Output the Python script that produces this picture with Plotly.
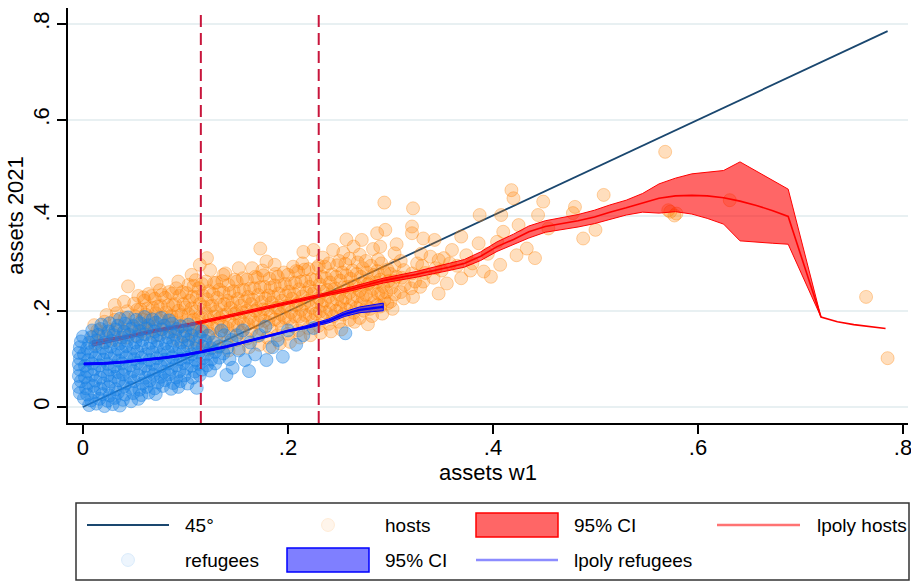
import plotly.graph_objects as go

# ---------------- data ----------------
tick_vals = [0, 0.2, 0.4, 0.6, 0.8]
tick_text = ["0", ".2", ".4", ".6", ".8"]

diag_x = [0.0, 0.785]
diag_y = [0.0, 0.785]

cutoffs = [0.115, 0.230]

hosts_grid_x = [0.009, 0.041, 0.072, 0.104, 0.135, 0.167, 0.199, 0.230, 0.262, 0.293,
                0.325, 0.357, 0.372, 0.388, 0.404, 0.420, 0.435, 0.451, 0.467, 0.483,
                0.499, 0.514, 0.530, 0.546, 0.562, 0.578, 0.594, 0.609, 0.625, 0.641,
                0.657, 0.673, 0.688, 0.720, 0.736, 0.752, 0.767, 0.783]
hosts_fit = [0.132, 0.146, 0.160, 0.172, 0.186, 0.201, 0.217, 0.232, 0.247, 0.264,
             0.277, 0.292, 0.300, 0.315, 0.335, 0.350, 0.366, 0.377, 0.383, 0.389,
             0.397, 0.407, 0.416, 0.426, 0.436, 0.441, 0.442, 0.441, 0.437, 0.430,
             0.421, 0.410, 0.398, 0.188, 0.178, 0.172, 0.168, 0.164]
hosts_lo = [0.127, 0.143, 0.157, 0.169, 0.183, 0.198, 0.214, 0.229, 0.243, 0.259,
            0.271, 0.285, 0.292, 0.306, 0.325, 0.339, 0.353, 0.365, 0.371, 0.376,
            0.383, 0.392, 0.401, 0.407, 0.405, 0.408, 0.403, 0.394, 0.382, 0.347,
            0.345, 0.342, 0.340, 0.188, None, None, None, None]
hosts_hi = [0.138, 0.149, 0.163, 0.175, 0.189, 0.204, 0.220, 0.235, 0.251, 0.269,
            0.283, 0.299, 0.308, 0.324, 0.345, 0.361, 0.378, 0.389, 0.395, 0.402,
            0.411, 0.422, 0.432, 0.446, 0.466, 0.478, 0.487, 0.490, 0.494, 0.512,
            0.493, 0.474, 0.455, 0.188, None, None, None, None]

ref_grid_x = [0.001, 0.020, 0.040, 0.060, 0.080, 0.100, 0.120, 0.140, 0.160, 0.180,
              0.200, 0.220, 0.240, 0.255, 0.270, 0.285, 0.293]
ref_fit = [0.090, 0.091, 0.094, 0.098, 0.103, 0.109, 0.117, 0.126, 0.137, 0.148,
           0.159, 0.168, 0.180, 0.194, 0.203, 0.207, 0.209]
ref_lo = [0.088, 0.089, 0.092, 0.096, 0.101, 0.107, 0.115, 0.124, 0.135, 0.146,
          0.157, 0.165, 0.176, 0.189, 0.197, 0.200, 0.201]
ref_hi = [0.092, 0.093, 0.096, 0.100, 0.105, 0.111, 0.119, 0.128, 0.139, 0.150,
          0.161, 0.171, 0.184, 0.199, 0.209, 0.214, 0.217]

refugee_points = [
    (0.006, 0.004), (0.013, 0.007), (0.021, 0.002), (0.029, 0.006), (0.036, 0.003),
    (0.001, 0.018), (0.008, 0.014), (0.016, 0.017), (0.024, 0.013), (0.031, 0.019), (0.039, 0.015),
    (0.047, 0.012), (0.054, 0.017),
    (-0.003, 0.029), (0.004, 0.026), (0.011, 0.031), (0.019, 0.027), (0.026, 0.024), (0.034, 0.030),
    (0.041, 0.026), (0.049, 0.029), (0.057, 0.025), (0.064, 0.030), (0.071, 0.027),
    (-0.004, 0.042), (0.003, 0.039), (0.010, 0.044), (0.017, 0.038), (0.025, 0.042), (0.032, 0.037),
    (0.040, 0.043), (0.047, 0.040), (0.055, 0.036), (0.062, 0.042), (0.070, 0.039), (0.078, 0.044),
    (0.086, 0.038), (0.093, 0.042), (0.111, 0.040),
    (-0.002, 0.054), (0.005, 0.050), (0.012, 0.055), (0.020, 0.049), (0.027, 0.053), (0.035, 0.056),
    (0.042, 0.050), (0.050, 0.054), (0.058, 0.049), (0.065, 0.055), (0.073, 0.051), (0.080, 0.056),
    (0.088, 0.050), (0.095, 0.054), (0.102, 0.049),
    (-0.004, 0.065), (0.002, 0.062), (0.009, 0.067), (0.017, 0.061), (0.024, 0.066), (0.031, 0.063),
    (0.039, 0.068), (0.046, 0.062), (0.054, 0.066), (0.061, 0.061), (0.069, 0.067), (0.076, 0.063),
    (0.084, 0.068), (0.091, 0.062), (0.099, 0.066), (0.107, 0.061), (0.114, 0.067), (0.140, 0.067),
    (-0.003, 0.078), (0.004, 0.074), (0.011, 0.079), (0.019, 0.075), (0.026, 0.078), (0.034, 0.073),
    (0.041, 0.079), (0.049, 0.075), (0.056, 0.080), (0.064, 0.074), (0.071, 0.078), (0.079, 0.073),
    (0.086, 0.079), (0.094, 0.075), (0.101, 0.080), (0.109, 0.074), (0.116, 0.078), (0.124, 0.076),
    (-0.004, 0.089), (0.002, 0.086), (0.009, 0.091), (0.016, 0.087), (0.024, 0.090), (0.031, 0.085),
    (0.038, 0.091), (0.046, 0.087), (0.053, 0.092), (0.061, 0.086), (0.068, 0.090), (0.076, 0.085),
    (0.083, 0.091), (0.091, 0.087), (0.098, 0.092), (0.106, 0.086), (0.113, 0.090), (0.121, 0.087),
    (0.129, 0.091),
    (-0.003, 0.101), (0.005, 0.098), (0.012, 0.103), (0.020, 0.099), (0.027, 0.102), (0.035, 0.097),
    (0.042, 0.104), (0.050, 0.100), (0.057, 0.103), (0.065, 0.098), (0.072, 0.102), (0.080, 0.099),
    (0.087, 0.104), (0.095, 0.100), (0.102, 0.103), (0.110, 0.098), (0.117, 0.102), (0.125, 0.099),
    (0.133, 0.103), (0.179, 0.098),
    (-0.004, 0.113), (0.001, 0.110), (0.008, 0.115), (0.016, 0.111), (0.023, 0.114), (0.031, 0.109),
    (0.038, 0.115), (0.046, 0.111), (0.053, 0.116), (0.061, 0.110), (0.068, 0.114), (0.076, 0.109),
    (0.083, 0.115), (0.091, 0.111), (0.098, 0.116), (0.106, 0.110), (0.113, 0.114), (0.121, 0.111),
    (0.129, 0.115), (0.137, 0.112),
    (-0.003, 0.125), (0.004, 0.122), (0.012, 0.127), (0.019, 0.123), (0.027, 0.126), (0.034, 0.121),
    (0.042, 0.127), (0.049, 0.123), (0.057, 0.128), (0.064, 0.122), (0.072, 0.126), (0.079, 0.121),
    (0.087, 0.127), (0.094, 0.123), (0.102, 0.128), (0.109, 0.122), (0.117, 0.126), (0.125, 0.123),
    (0.133, 0.127), (0.141, 0.124),
    (-0.002, 0.137), (0.006, 0.134), (0.013, 0.139), (0.021, 0.135), (0.028, 0.138), (0.036, 0.133),
    (0.043, 0.139), (0.051, 0.135), (0.058, 0.140), (0.066, 0.134), (0.073, 0.138), (0.081, 0.133),
    (0.088, 0.139), (0.096, 0.135), (0.103, 0.140), (0.111, 0.134), (0.119, 0.138), (0.127, 0.135),
    (0.000, 0.147), (0.008, 0.146), (0.015, 0.151), (0.023, 0.147), (0.030, 0.150), (0.038, 0.145),
    (0.045, 0.151), (0.053, 0.147), (0.060, 0.152), (0.068, 0.146), (0.075, 0.150), (0.083, 0.145),
    (0.090, 0.151), (0.098, 0.147), (0.106, 0.150), (0.114, 0.146), (0.122, 0.149),
    (0.009, 0.160), (0.017, 0.163), (0.025, 0.158), (0.032, 0.162), (0.040, 0.157), (0.047, 0.163),
    (0.055, 0.159), (0.062, 0.164), (0.070, 0.158), (0.077, 0.162), (0.085, 0.157), (0.092, 0.163),
    (0.100, 0.159), (0.108, 0.162), (0.116, 0.158),
    (0.018, 0.172), (0.026, 0.175), (0.034, 0.170), (0.041, 0.174), (0.049, 0.169), (0.056, 0.175),
    (0.064, 0.171), (0.071, 0.176), (0.079, 0.170), (0.087, 0.174), (0.095, 0.169), (0.103, 0.172),
    (0.036, 0.184), (0.044, 0.187), (0.052, 0.182), (0.060, 0.188), (0.068, 0.183), (0.076, 0.186),
    (0.084, 0.181),
    (0.146, 0.082), (0.152, 0.118), (0.158, 0.098), (0.163, 0.135), (0.150, 0.150), (0.168, 0.110),
    (0.172, 0.150), (0.145, 0.140), (0.156, 0.160), (0.185, 0.125), (0.190, 0.140), (0.195, 0.105),
    (0.200, 0.160), (0.178, 0.168), (0.208, 0.130), (0.215, 0.150), (0.162, 0.075), (0.138, 0.150),
    (0.143, 0.100), (0.225, 0.165), (0.256, 0.154), (0.135, 0.160),
]

host_points = [
    (0.012, 0.132), (0.010, 0.147), (0.014, 0.160), (0.011, 0.171),
    (0.022, 0.135), (0.020, 0.150), (0.024, 0.163), (0.021, 0.178), (0.023, 0.192),
    (0.032, 0.140), (0.030, 0.155), (0.034, 0.168), (0.031, 0.182), (0.033, 0.196), (0.031, 0.213),
    (0.042, 0.145), (0.040, 0.158), (0.044, 0.172), (0.041, 0.186), (0.043, 0.200), (0.040, 0.220),
    (0.044, 0.252),
    (0.052, 0.150), (0.050, 0.163), (0.054, 0.176), (0.051, 0.189), (0.053, 0.203), (0.050, 0.216),
    (0.054, 0.232),
    (0.062, 0.152), (0.060, 0.166), (0.064, 0.180), (0.061, 0.193), (0.063, 0.206), (0.060, 0.222),
    (0.064, 0.236),
    (0.072, 0.150), (0.070, 0.168), (0.074, 0.182), (0.071, 0.196), (0.073, 0.210), (0.070, 0.226),
    (0.072, 0.258), (0.075, 0.244),
    (0.082, 0.155), (0.080, 0.170), (0.084, 0.184), (0.081, 0.198), (0.083, 0.212), (0.080, 0.228),
    (0.084, 0.240),
    (0.092, 0.140), (0.090, 0.158), (0.094, 0.173), (0.091, 0.187), (0.093, 0.201), (0.090, 0.215),
    (0.094, 0.232), (0.093, 0.262), (0.091, 0.248),
    (0.102, 0.135), (0.100, 0.150), (0.104, 0.165), (0.101, 0.180), (0.103, 0.194), (0.100, 0.208),
    (0.104, 0.222), (0.101, 0.238), (0.106, 0.276), (0.103, 0.255),
    (0.112, 0.125), (0.110, 0.142), (0.114, 0.158), (0.111, 0.172), (0.113, 0.186), (0.110, 0.200),
    (0.114, 0.215), (0.111, 0.230), (0.113, 0.248), (0.114, 0.297), (0.110, 0.265),
    (0.122, 0.120), (0.120, 0.138), (0.124, 0.153), (0.121, 0.168), (0.123, 0.182), (0.120, 0.196),
    (0.124, 0.210), (0.121, 0.225), (0.123, 0.242), (0.121, 0.311), (0.124, 0.286), (0.120, 0.262),
    (0.132, 0.125), (0.130, 0.142), (0.134, 0.157), (0.131, 0.171), (0.133, 0.185), (0.130, 0.199),
    (0.134, 0.213), (0.131, 0.228), (0.133, 0.245), (0.137, 0.276), (0.130, 0.260),
    (0.142, 0.118), (0.140, 0.135), (0.144, 0.150), (0.141, 0.165), (0.143, 0.179), (0.140, 0.193),
    (0.144, 0.207), (0.141, 0.222), (0.143, 0.238), (0.139, 0.279), (0.142, 0.255),
    (0.152, 0.122), (0.150, 0.140), (0.154, 0.156), (0.151, 0.170), (0.153, 0.184), (0.150, 0.198),
    (0.154, 0.212), (0.151, 0.226), (0.153, 0.242), (0.152, 0.290), (0.150, 0.262),
    (0.162, 0.125), (0.160, 0.143), (0.164, 0.159), (0.161, 0.173), (0.163, 0.187), (0.160, 0.201),
    (0.164, 0.215), (0.161, 0.230), (0.163, 0.247), (0.165, 0.290), (0.160, 0.266),
    (0.172, 0.130), (0.170, 0.148), (0.174, 0.163), (0.171, 0.177), (0.173, 0.191), (0.170, 0.205),
    (0.174, 0.219), (0.171, 0.234), (0.173, 0.250), (0.173, 0.331), (0.170, 0.270), (0.175, 0.285),
    (0.182, 0.125), (0.180, 0.145), (0.184, 0.161), (0.181, 0.176), (0.183, 0.190), (0.180, 0.204),
    (0.184, 0.218), (0.181, 0.233), (0.183, 0.249), (0.179, 0.304), (0.182, 0.268),
    (0.192, 0.133), (0.190, 0.150), (0.194, 0.166), (0.191, 0.180), (0.193, 0.194), (0.190, 0.208),
    (0.194, 0.222), (0.191, 0.237), (0.193, 0.253), (0.187, 0.297), (0.190, 0.272),
    (0.202, 0.136), (0.200, 0.153), (0.204, 0.169), (0.201, 0.184), (0.203, 0.198), (0.200, 0.212),
    (0.204, 0.226), (0.201, 0.241), (0.203, 0.258), (0.205, 0.293), (0.200, 0.276),
    (0.212, 0.145), (0.210, 0.160), (0.214, 0.175), (0.211, 0.189), (0.213, 0.203), (0.210, 0.217),
    (0.214, 0.231), (0.211, 0.246), (0.213, 0.262), (0.215, 0.324), (0.210, 0.282), (0.214, 0.300),
    (0.222, 0.150), (0.220, 0.165), (0.224, 0.180), (0.221, 0.194), (0.223, 0.208), (0.220, 0.222),
    (0.224, 0.236), (0.221, 0.251), (0.223, 0.267), (0.225, 0.328), (0.220, 0.288),
    (0.232, 0.155), (0.230, 0.170), (0.234, 0.185), (0.231, 0.199), (0.233, 0.213), (0.230, 0.227),
    (0.234, 0.241), (0.231, 0.256), (0.233, 0.272), (0.230, 0.295), (0.234, 0.312),
    (0.242, 0.158), (0.240, 0.174), (0.244, 0.189), (0.241, 0.203), (0.243, 0.217), (0.240, 0.231),
    (0.244, 0.245), (0.241, 0.260), (0.243, 0.277), (0.244, 0.328), (0.240, 0.300),
    (0.252, 0.162), (0.250, 0.178), (0.254, 0.193), (0.251, 0.207), (0.253, 0.221), (0.250, 0.235),
    (0.254, 0.249), (0.251, 0.264), (0.253, 0.281), (0.257, 0.350), (0.250, 0.305), (0.254, 0.322),
    (0.265, 0.178), (0.260, 0.182), (0.264, 0.197), (0.261, 0.211), (0.263, 0.225), (0.260, 0.239),
    (0.264, 0.253), (0.261, 0.268), (0.263, 0.285), (0.260, 0.310), (0.264, 0.335),
    (0.278, 0.173), (0.270, 0.186), (0.274, 0.201), (0.271, 0.215), (0.273, 0.229), (0.270, 0.243),
    (0.274, 0.257), (0.271, 0.272), (0.273, 0.290), (0.272, 0.349), (0.270, 0.318),
    (0.282, 0.190), (0.280, 0.205), (0.284, 0.219), (0.281, 0.233), (0.283, 0.247), (0.280, 0.261),
    (0.284, 0.276), (0.281, 0.295), (0.287, 0.363), (0.283, 0.330),
    (0.292, 0.195), (0.290, 0.210), (0.294, 0.224), (0.291, 0.238), (0.293, 0.252), (0.290, 0.266),
    (0.294, 0.281), (0.291, 0.300), (0.295, 0.370), (0.294, 0.427), (0.290, 0.335),
    (0.302, 0.205), (0.300, 0.220), (0.304, 0.235), (0.301, 0.249), (0.303, 0.263), (0.300, 0.278),
    (0.304, 0.295), (0.306, 0.272), (0.304, 0.321),
    (0.313, 0.227), (0.310, 0.240), (0.314, 0.255), (0.311, 0.270), (0.313, 0.286), (0.310, 0.305),
    (0.306, 0.340),
    (0.322, 0.230), (0.320, 0.248), (0.324, 0.262), (0.321, 0.279), (0.326, 0.300), (0.322, 0.415),
    (0.321, 0.377), (0.321, 0.363),
    (0.329, 0.251), (0.332, 0.262), (0.334, 0.280), (0.331, 0.295), (0.332, 0.352), (0.330, 0.320),
    (0.343, 0.349), (0.339, 0.314), (0.342, 0.270), (0.344, 0.290), (0.347, 0.237), (0.347, 0.307),
    (0.352, 0.311), (0.355, 0.258), (0.350, 0.285), (0.358, 0.300), (0.360, 0.328),
    (0.369, 0.269), (0.369, 0.356), (0.374, 0.317), (0.365, 0.295), (0.380, 0.300), (0.386, 0.342),
    (0.387, 0.401), (0.391, 0.283), (0.404, 0.345), (0.407, 0.297), (0.408, 0.401), (0.410, 0.366),
    (0.418, 0.453), (0.420, 0.436), (0.423, 0.317), (0.425, 0.380), (0.433, 0.331), (0.441, 0.311),
    (0.444, 0.401), (0.449, 0.429), (0.454, 0.373), (0.395, 0.320), (0.378, 0.285), (0.398, 0.272),
    (0.478, 0.405), (0.480, 0.418), (0.488, 0.352), (0.500, 0.370), (0.508, 0.443), (0.568, 0.533),
    (0.571, 0.411), (0.573, 0.408), (0.577, 0.400), (0.579, 0.404), (0.631, 0.432), (0.764, 0.230),
    (0.785, 0.102),
    # denser core of the hosts cloud
    (0.057, 0.158), (0.058, 0.183), (0.056, 0.204), (0.059, 0.229),
    (0.067, 0.161), (0.066, 0.185), (0.068, 0.207), (0.067, 0.232),
    (0.077, 0.163), (0.078, 0.187), (0.076, 0.211), (0.077, 0.234),
    (0.087, 0.166), (0.086, 0.190), (0.088, 0.213), (0.087, 0.237),
    (0.097, 0.168), (0.096, 0.192), (0.098, 0.215), (0.097, 0.240),
    (0.107, 0.159), (0.108, 0.183), (0.106, 0.206), (0.107, 0.230), (0.108, 0.253),
    (0.117, 0.162), (0.116, 0.186), (0.118, 0.209), (0.117, 0.233), (0.116, 0.257),
    (0.127, 0.165), (0.128, 0.189), (0.126, 0.212), (0.127, 0.236), (0.128, 0.259),
    (0.137, 0.168), (0.136, 0.192), (0.138, 0.215), (0.137, 0.239), (0.136, 0.263),
    (0.147, 0.171), (0.148, 0.195), (0.146, 0.218), (0.147, 0.242), (0.148, 0.266),
    (0.157, 0.174), (0.156, 0.198), (0.158, 0.221), (0.157, 0.245), (0.156, 0.269),
    (0.167, 0.177), (0.168, 0.201), (0.166, 0.224), (0.167, 0.248), (0.168, 0.272),
    (0.177, 0.180), (0.176, 0.204), (0.178, 0.227), (0.177, 0.251), (0.176, 0.275),
    (0.187, 0.183), (0.188, 0.207), (0.186, 0.230), (0.187, 0.254), (0.188, 0.278),
    (0.197, 0.186), (0.196, 0.210), (0.198, 0.233), (0.197, 0.257), (0.196, 0.281),
    (0.207, 0.189), (0.208, 0.213), (0.206, 0.236), (0.207, 0.260), (0.208, 0.284),
    (0.217, 0.192), (0.216, 0.216), (0.218, 0.239), (0.217, 0.263), (0.216, 0.287),
    (0.227, 0.195), (0.228, 0.219), (0.226, 0.242), (0.227, 0.266), (0.228, 0.290),
    (0.237, 0.198), (0.236, 0.222), (0.238, 0.245), (0.237, 0.269), (0.236, 0.293),
    (0.247, 0.201), (0.248, 0.225), (0.246, 0.248), (0.247, 0.272), (0.248, 0.296),
    (0.257, 0.204), (0.256, 0.228), (0.258, 0.251), (0.257, 0.275), (0.256, 0.299),
    (0.267, 0.207), (0.268, 0.231), (0.266, 0.254), (0.267, 0.278), (0.268, 0.302),
    (0.277, 0.210), (0.276, 0.234), (0.278, 0.257), (0.277, 0.281), (0.276, 0.305),
    (0.287, 0.213), (0.288, 0.237), (0.286, 0.260), (0.287, 0.284), (0.288, 0.308),
    (0.297, 0.216), (0.296, 0.240), (0.298, 0.263), (0.297, 0.287),
]

legend_labels_row1 = ["45°", "hosts", "95% CI", "lpoly hosts"]
legend_labels_row2 = ["refugees", "95% CI", "lpoly refugees"]

# ---------------- styles ----------------
NAVY = "#1a476f"
ORANGE_FILL = "rgba(255,128,0,0.26)"
ORANGE_LINE = "rgba(255,128,0,0.34)"
BLUE_FILL = "rgba(24,130,230,0.38)"
BLUE_LINE = "rgba(24,130,230,0.44)"
RED = "#ff0000"
RED_BAND = "rgba(255,0,0,0.6)"
BLUE = "#0000ff"
BLUE_BAND = "rgba(0,0,255,0.5)"
CRIMSON = "#c8163c"
GRID = "#e8f0f2"
FONT = "Liberation Sans, Arial, Helvetica, sans-serif"


def band_polygon(xs, lo, hi):
    px, py = [], []
    keep = [(x, l, h) for x, l, h in zip(xs, lo, hi) if l is not None and h is not None]
    for x, l, h in keep:
        px.append(x)
        py.append(h)
    for x, l, h in reversed(keep):
        px.append(x)
        py.append(l)
    px.append(keep[0][0])
    py.append(keep[0][2])
    return px, py


fig = go.Figure()

# 45 degree line
fig.add_trace(go.Scatter(x=diag_x, y=diag_y, mode="lines",
                         line=dict(color=NAVY, width=1.8), hoverinfo="skip"))

# hosts scatter
fig.add_trace(go.Scatter(x=[p[0] for p in host_points], y=[p[1] for p in host_points],
                         mode="markers",
                         marker=dict(size=13, color=ORANGE_FILL,
                                     line=dict(color=ORANGE_LINE, width=1))))

# hosts CI band
hx, hy = band_polygon(hosts_grid_x, hosts_lo, hosts_hi)
fig.add_trace(go.Scatter(x=hx, y=hy, mode="lines", fill="toself", fillcolor=RED_BAND,
                         line=dict(color=RED, width=1)))
# hosts lpoly
fig.add_trace(go.Scatter(x=hosts_grid_x, y=hosts_fit, mode="lines",
                         line=dict(color=RED, width=1.6)))

# refugees scatter
fig.add_trace(go.Scatter(x=[p[0] for p in refugee_points], y=[p[1] for p in refugee_points],
                         mode="markers",
                         marker=dict(size=13, color=BLUE_FILL,
                                     line=dict(color=BLUE_LINE, width=1))))

# refugees CI band
rx, ry = band_polygon(ref_grid_x, ref_lo, ref_hi)
fig.add_trace(go.Scatter(x=rx, y=ry, mode="lines", fill="toself", fillcolor=BLUE_BAND,
                         line=dict(color=BLUE, width=1)))
# refugees lpoly
fig.add_trace(go.Scatter(x=ref_grid_x, y=ref_fit, mode="lines",
                         line=dict(color=BLUE, width=2.2)))

# dashed cutoff lines
for c in cutoffs:
    fig.add_shape(type="line", xref="x", yref="paper", x0=c, x1=c, y0=0, y1=0.995,
                  line=dict(color=CRIMSON, width=2, dash="12px,6px"))

# ---------------- custom legend (Stata style) ----------------
PL, PR, PT, PB = 68, 908, 8, 423
W, H = PR - PL, PB - PT


def px2x(p):
    return (p - PL) / W


def py2y(p):
    return (PB - p) / H


# legend frame
fig.add_shape(type="rect", xref="paper", yref="paper",
              x0=px2x(76), x1=px2x(909), y0=py2y(580), y1=py2y(503),
              line=dict(color="#333333", width=1.5), fillcolor="rgba(0,0,0,0)")

row1, row2 = 525, 560
# 45 line key
fig.add_shape(type="line", xref="paper", yref="paper", x0=px2x(87), x1=px2x(169),
              y0=py2y(row1), y1=py2y(row1), line=dict(color=NAVY, width=2))
# hosts marker key
r = 6.5
fig.add_shape(type="circle", xref="paper", yref="paper",
              x0=px2x(328 - r), x1=px2x(328 + r), y0=py2y(row1 + r), y1=py2y(row1 - r),
              fillcolor="rgba(255,128,0,0.08)", line=dict(color="rgba(255,128,0,0.12)", width=1))
# red CI key
fig.add_shape(type="rect", xref="paper", yref="paper", x0=px2x(476), x1=px2x(558),
              y0=py2y(537), y1=py2y(513), fillcolor=RED_BAND, line=dict(color=RED, width=1.5))
# lpoly hosts key
fig.add_shape(type="line", xref="paper", yref="paper", x0=px2x(717), x1=px2x(800),
              y0=py2y(row1), y1=py2y(row1), line=dict(color="rgba(255,0,0,0.55)", width=2.5))
# refugees marker key
fig.add_shape(type="circle", xref="paper", yref="paper",
              x0=px2x(128 - r), x1=px2x(128 + r), y0=py2y(row2 + r), y1=py2y(row2 - r),
              fillcolor="rgba(24,130,230,0.08)", line=dict(color="rgba(24,130,230,0.12)", width=1))
# blue CI key
fig.add_shape(type="rect", xref="paper", yref="paper", x0=px2x(287), x1=px2x(369),
              y0=py2y(572), y1=py2y(548), fillcolor=BLUE_BAND, line=dict(color=BLUE, width=1.5))
# lpoly refugees key
fig.add_shape(type="line", xref="paper", yref="paper", x0=px2x(476), x1=px2x(558),
              y0=py2y(row2), y1=py2y(row2), line=dict(color="rgba(0,0,255,0.45)", width=2.5))

text_pos_row1 = [183, 383, 572, 815]
text_pos_row2 = [183, 383, 572]
for label, xp in zip(legend_labels_row1, text_pos_row1):
    fig.add_annotation(xref="paper", yref="paper", x=px2x(xp), y=py2y(row1), text=label,
                       showarrow=False, xanchor="left", yanchor="middle",
                       font=dict(size=19, family=FONT, color="black"))
for label, xp in zip(legend_labels_row2, text_pos_row2):
    fig.add_annotation(xref="paper", yref="paper", x=px2x(xp), y=py2y(row2), text=label,
                       showarrow=False, xanchor="left", yanchor="middle",
                       font=dict(size=19, family=FONT, color="black"))

# ---------------- layout ----------------
fig.update_layout(
    width=911, height=581,
    margin=dict(l=PL, r=911 - PR, t=PT, b=581 - PB, pad=0, autoexpand=False),
    plot_bgcolor="white", paper_bgcolor="white",
    showlegend=False,
    font=dict(family=FONT, color="black", size=22),
    xaxis=dict(range=[-0.0146, 0.8049], tickvals=tick_vals, ticktext=tick_text,
               automargin=False, ticklabeloverflow="allow", ticklabelstandoff=-5,
               ticks="outside", ticklen=9, tickwidth=1.5, tickcolor="black",
               showline=True, linecolor="black", linewidth=1.5,
               showgrid=False, zeroline=False, tickfont=dict(size=22),
               title=dict(text="assets w1", font=dict(size=22), standoff=4)),
    yaxis=dict(range=[-0.0334, 0.8334], tickvals=tick_vals, ticktext=tick_text,
               automargin=False, ticklabeloverflow="allow", ticklabelstandoff=-1,
               tickangle=-90, ticks="outside", ticklen=9, tickwidth=1.5, tickcolor="black",
               showline=True, linecolor="black", linewidth=1.5,
               showgrid=True, gridcolor=GRID, gridwidth=2, zeroline=False,
               tickfont=dict(size=22),
               title=dict(text="assets 2021", font=dict(size=22), standoff=0)),
)

fig.write_html(
    "out.html",
    config={"displayModeBar": False},
    post_script="document.body.style.margin='0';document.body.style.padding='0';"
                "document.body.style.overflow='hidden';",
)
